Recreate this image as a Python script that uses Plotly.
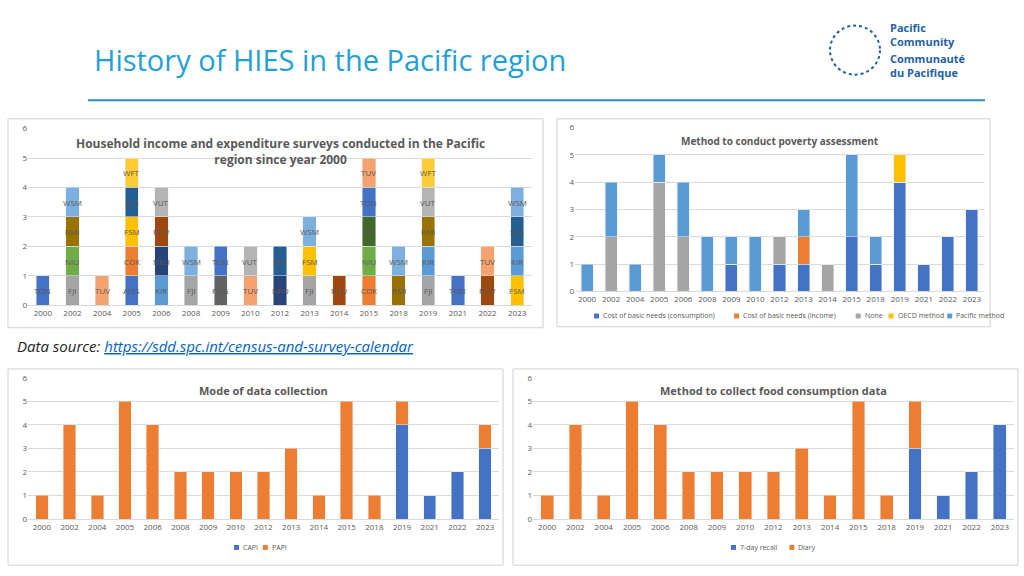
import plotly.graph_objects as go

W, H = 1024, 576

years = ["2000", "2002", "2004", "2005", "2006", "2008", "2009", "2010", "2012",
         "2013", "2014", "2015", "2018", "2019", "2021", "2022", "2023"]

# countries surveyed each year, bottom to top
stacks = [
    ["TON"], ["FJI", "NIU", "RMI", "WSM"], ["TUV"], ["AMS", "COK", "FSM", "SLB", "WFT"],
    ["KIR", "NRU", "PLW", "VUT"], ["FJI", "WSM"], ["PNG", "TON"], ["TUV", "VUT"],
    ["NRU", "SLB"], ["FJI", "FSM", "WSM"], ["PLW"], ["COK", "NIU", "TKL", "TON", "TUV"],
    ["RMI", "WSM"], ["FJI", "KIR", "RMI", "VUT", "WFT"], ["TON"], ["PLW", "TUV"],
    ["FSM", "KIR", "SLB", "WSM"],
]
country_colors = {
    "TON": "#4472C4", "FJI": "#A5A5A5", "TUV": "#F4A36E", "AMS": "#4472C4", "COK": "#ED7D31",
    "FSM": "#FFC000", "SLB": "#255E91", "WFT": "#FFCD33", "KIR": "#5B9BD5", "NRU": "#264478",
    "PLW": "#9E480E", "VUT": "#B4B4B4", "NIU": "#70AD47", "RMI": "#997300", "WSM": "#7EB0DF",
    "PNG": "#636363", "TKL": "#43682B",
}

# poverty assessment method
pov_names = ["Cost of basic needs (consumption)", "Cost of basic needs (income)", "None",
             "OECD method", "Pacific method"]
pov_colors = ["#4472C4", "#ED7D31", "#A5A5A5", "#FFC000", "#5B9BD5"]
pov_cbn_cons = [0, 0, 0, 0, 0, 0, 1, 0, 1, 1, 0, 2, 1, 4, 1, 2, 3]
pov_cbn_inc = [0, 0, 0, 0, 0, 0, 0, 0, 0, 1, 0, 0, 0, 0, 0, 0, 0]
pov_none = [0, 2, 0, 4, 2, 0, 0, 0, 1, 0, 1, 0, 0, 0, 0, 0, 0]
pov_oecd = [0, 0, 0, 0, 0, 0, 0, 0, 0, 0, 0, 0, 0, 1, 0, 0, 0]
pov_pacific = [1, 2, 1, 1, 2, 2, 1, 2, 0, 1, 0, 3, 1, 0, 0, 0, 0]

# mode of data collection
capi = [0, 0, 0, 0, 0, 0, 0, 0, 0, 0, 0, 0, 0, 4, 1, 2, 3]
papi = [1, 4, 1, 5, 4, 2, 2, 2, 2, 3, 1, 5, 1, 1, 0, 0, 1]

# food consumption method
recall7 = [0, 0, 0, 0, 0, 0, 0, 0, 0, 0, 0, 0, 0, 3, 1, 2, 4]
diary = [1, 4, 1, 5, 4, 2, 2, 2, 2, 3, 1, 5, 1, 2, 0, 0, 0]

GREY = "#595959"
fig = go.Figure()


def px(x):
    return x / W


def py(y):
    return 1 - y / H


# panel boxes (pixels): box, plot area
panels = {
    1: dict(box=(8, 115, 543, 328), plot=(28, 125, 532, 305)),
    2: dict(box=(557, 115, 990, 327), plot=(575, 124, 984, 291)),
    3: dict(box=(8, 370, 503, 570), plot=(28, 379, 499, 523)),
    4: dict(box=(513, 370, 1018, 570), plot=(533, 379, 1014, 523)),
}

layout = dict(width=W, height=H, margin=dict(l=0, r=0, t=0, b=0), paper_bgcolor="white",
              plot_bgcolor="white", barmode="stack", showlegend=False,
              font=dict(family="Open Sans", color=GREY, size=8))
shapes, annots = [], []
for i, p in panels.items():
    x0, y0, x1, y1 = p["box"]
    shapes.append(dict(type="rect", xref="paper", yref="paper", x0=px(x0), x1=px(x1),
                       y0=py(y1), y1=py(y0), line=dict(color="#D0D0D0", width=1)))
    a0, b0, a1, b1 = p["plot"]
    sfx = "" if i == 1 else str(i)
    layout["xaxis" + sfx] = dict(domain=[px(a0), px(a1)], anchor="y" + sfx, type="category",
                                 categoryorder="array", categoryarray=years,
                                 range=[-0.5, len(years) - 0.5],
                                 showline=True, linecolor="#D9D9D9", ticks="",
                                 tickfont=dict(size=8, color=GREY))
    layout["yaxis" + sfx] = dict(domain=[py(b1), py(b0)], anchor="x" + sfx, range=[0, 6],
                                 dtick=1, gridcolor="#D9D9D9", zeroline=False,
                                 tickfont=dict(size=8, color=GREY))

# chart 1
for k in range(5):
    xs = [y for y, s in zip(years, stacks) if len(s) > k]
    cs = [s[k] for s in stacks if len(s) > k]
    fig.add_trace(go.Bar(x=xs, y=[1] * len(xs), marker_color=[country_colors[c] for c in cs],
                         width=0.45, xaxis="x", yaxis="y", hoverinfo="x+text", hovertext=cs))
    for x, c in zip(xs, cs):
        annots.append(dict(x=years.index(x), y=k + 0.5, xref="x", yref="y", text=c,
                           showarrow=False, font=dict(size=8, color=GREY)))
annots.append(dict(x=0.5, y=5.85, xref="x domain", yref="y", yanchor="top",
                   text="<b>Household income and expenditure surveys conducted in the Pacific<br>region since year 2000</b>",
                   showarrow=False, font=dict(size=12, color=GREY)))

# chart 2
for name, col, vals in zip(pov_names, pov_colors,
                           [pov_cbn_cons, pov_cbn_inc, pov_none, pov_oecd, pov_pacific]):
    fig.add_trace(go.Bar(x=years, y=vals, name=name, marker_color=col, width=0.5,
                         xaxis="x2", yaxis="y2"))
annots.append(dict(x=0.5, y=5.85, xref="x2 domain", yref="y2", yanchor="top",
                   text="<b>Method to conduct poverty assessment</b>", showarrow=False,
                   font=dict(size=10, color=GREY)))

# charts 3 and 4
for sfx, names, series in [("3", ["CAPI", "PAPI"], [capi, papi]),
                           ("4", ["7-day recall", "Diary"], [recall7, diary])]:
    for name, col, vals in zip(names, ["#4472C4", "#ED7D31"], series):
        fig.add_trace(go.Bar(x=years, y=vals, name=name, marker_color=col, width=0.45,
                             xaxis="x" + sfx, yaxis="y" + sfx))
titles = {"3": "Mode of data collection", "4": "Method to collect food consumption data"}
for sfx, t in titles.items():
    annots.append(dict(x=0.5, y=5.85, xref="x%s domain" % sfx, yref="y" + sfx, yanchor="top",
                       text="<b>%s</b>" % t, showarrow=False, font=dict(size=11, color=GREY)))


def note(x, y, text, **kw):
    annots.append(dict(x=px(x), y=py(y), xref="paper", yref="paper", xanchor="left",
                       yanchor="middle", text=text, showarrow=False, align="left", **kw))


# manual legends under charts 2-4
def legend(items, y, xstart, gap):
    x = xstart
    for name, col in items:
        shapes.append(dict(type="rect", xref="paper", yref="paper", x0=px(x), x1=px(x + 5),
                           y0=py(y + 2.5), y1=py(y - 2.5), fillcolor=col, line_width=0))
        note(x + 7, y, name, font=dict(size=7, color=GREY))
        x += 10 + len(name) * 3.7 + gap


legend(list(zip(pov_names, pov_colors)), 316, 594, 8)
legend([("CAPI", "#4472C4"), ("PAPI", "#ED7D31")], 552, 234, 4)
legend([("7-day recall", "#4472C4"), ("Diary", "#ED7D31")], 552, 731, 4)

# slide decoration
note(92, 55, "History of HIES in the Pacific region",
     font=dict(family="Open Sans", size=29, color="#1FA0D8"))
shapes.append(dict(type="line", xref="paper", yref="paper", x0=px(88), x1=px(985),
                   y0=py(96), y1=py(96), line=dict(color="#2E8BC0", width=2)))
note(15, 347, "<i>Data source: <a href='https://sdd.spc.int/census-and-survey-calendar' style='color:#0563C1'><u>https://sdd.spc.int/census-and-survey-calendar</u></a></i>",
     font=dict(size=15, color="#222222"))
shapes.append(dict(type="circle", xref="paper", yref="paper", x0=px(830), x1=px(880),
                   y0=py(70), y1=py(20), line=dict(color="#1F5FA6", width=2, dash="dot")))
note(888, 29, "<b>Pacific<br>Community</b>", font=dict(size=11, color="#1F5FA6"))
note(888, 61, "<b>Communauté<br>du Pacifique</b>", font=dict(size=11, color="#1F5FA6"))

layout["shapes"] = shapes
layout["annotations"] = annots
fig.update_layout(**layout)
fig.write_html("out.html", config={"displayModeBar": False},
               post_script="document.body.style.margin='0';")
